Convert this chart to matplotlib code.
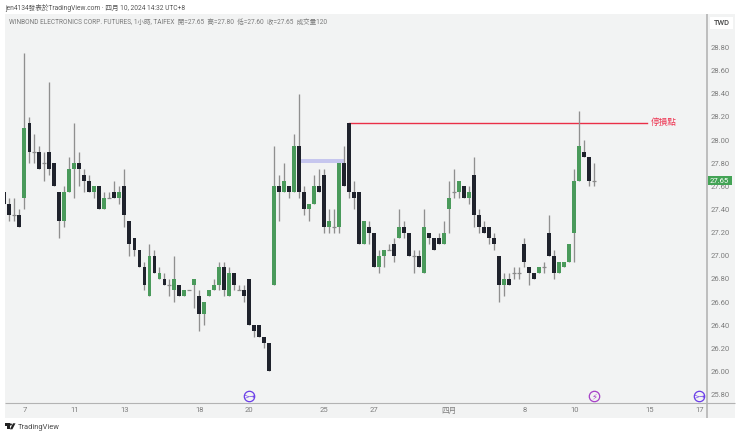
import matplotlib
matplotlib.use("Agg")
import matplotlib.pyplot as plt
from matplotlib.patches import Rectangle, Polygon, Circle

plt.rcParams['font.family'] = ['Roboto', 'Noto Sans CJK TC', 'DejaVu Sans']

opens = [27.55,27.45,27.35,27.35,27.50,28.15,27.90,27.90,27.80,27.90,
         27.80,27.55,27.30,27.55,27.75,27.80,27.70,27.65,27.55,27.60,
         27.40,27.50,27.55,27.50,27.60,27.30,27.15,27.05,26.90,26.65,
         27.00,26.80,26.80,26.75,26.70,26.75,26.65,26.70,26.75,26.65,
         26.50,26.65,26.70,26.75,26.90,26.65,26.85,26.70,26.70,26.80,
         26.40,26.40,26.30,26.25,26.75,27.60,27.55,27.60,27.55,27.95,
         27.55,27.40,27.45,27.60,27.70,27.25,27.25,27.25,27.80,28.15,
         27.55,27.55,27.10,27.25,27.20,26.90,27.00,27.05,27.10,27.15,
         27.25,27.20,27.00,27.00,26.85,27.20,27.15,27.15,27.10,27.40,
         27.55,27.55,27.60,27.50,27.70,27.35,27.25,27.25,27.15,27.00,
         26.75,26.80,26.85,26.85,27.10,26.90,26.85,26.85,26.90,27.20,
         27.00,26.85,26.90,26.95,27.20,27.65,27.90,27.85,27.65]
closes = [27.45,27.35,27.35,27.25,28.10,27.90,27.90,27.75,27.80,27.75,
          27.60,27.30,27.55,27.75,27.80,27.75,27.65,27.55,27.60,27.40,
          27.50,27.50,27.50,27.55,27.35,27.10,27.05,26.90,26.75,27.00,
          26.85,26.85,26.75,26.75,26.80,26.65,26.70,26.70,26.80,26.50,
          26.60,26.70,26.75,26.90,26.70,26.85,26.75,26.70,26.65,26.40,
          26.35,26.30,26.25,26.00,27.60,27.55,27.65,27.55,27.95,27.55,
          27.40,27.45,27.60,27.55,27.25,27.30,27.25,27.80,27.60,27.55,
          27.50,27.10,27.30,27.20,26.90,27.00,27.05,27.05,27.00,27.25,
          27.20,27.00,27.00,26.90,27.25,27.15,27.05,27.10,27.20,27.50,
          27.55,27.65,27.50,27.55,27.35,27.25,27.20,27.15,27.10,26.75,
          26.80,26.75,26.85,26.85,26.95,26.85,26.80,26.90,26.90,27.00,
          26.85,26.95,26.95,27.10,27.65,27.95,27.85,27.65,27.65]
highs = [27.55,27.50,27.50,27.40,28.75,28.20,28.05,27.95,27.90,28.50,
         27.80,27.55,27.60,27.85,28.15,27.90,27.75,27.70,27.60,27.60,
         27.55,27.55,27.65,27.60,27.75,27.30,27.15,27.05,26.95,27.10,
         27.05,26.90,26.85,26.80,27.00,26.75,26.70,26.70,26.80,26.70,
         26.60,26.70,26.80,26.95,26.95,26.90,26.85,26.75,26.75,26.80,
         26.40,26.40,26.30,26.25,27.95,27.70,27.80,27.60,28.05,28.40,
         27.60,27.45,27.70,27.75,27.75,27.40,27.40,27.80,27.95,28.15,
         27.65,27.55,27.30,27.30,27.20,27.05,27.05,27.10,27.15,27.40,
         27.30,27.20,27.05,27.05,27.40,27.20,27.15,27.20,27.30,27.65,
         27.75,27.65,27.60,27.60,27.85,27.40,27.30,27.25,27.20,27.00,
         26.85,26.85,26.90,26.90,27.15,26.90,26.85,26.90,26.95,27.35,
         27.05,26.95,26.95,27.10,27.75,28.25,28.00,27.85,27.80]
lows = [27.45,27.30,27.30,27.25,27.40,27.80,27.80,27.75,27.65,27.70,
        27.60,27.15,27.25,27.55,27.50,27.60,27.55,27.55,27.50,27.40,
        27.40,27.50,27.50,27.45,27.25,27.00,27.00,26.90,26.70,26.65,
        26.85,26.80,26.75,26.65,26.60,26.65,26.65,26.70,26.55,26.35,
        26.40,26.65,26.70,26.70,26.65,26.65,26.70,26.70,26.60,26.40,
        26.30,26.30,26.20,26.00,26.75,27.30,27.55,27.50,27.55,27.50,
        27.35,27.30,27.45,27.55,27.20,27.20,27.20,27.20,27.60,27.50,
        27.40,27.10,27.10,27.10,26.90,26.85,26.90,27.05,26.95,27.15,
        27.15,27.00,26.85,26.90,26.85,27.10,27.05,27.10,27.10,27.20,
        27.50,27.50,27.50,27.45,27.25,27.20,27.20,27.10,27.05,26.60,
        26.65,26.75,26.80,26.80,26.90,26.75,26.80,26.85,26.85,27.00,
        26.80,26.85,26.90,26.95,26.95,27.65,27.85,27.60,27.60]

x_tick_pos = [4, 14, 24, 39, 49, 64, 74, 89, 104, 114, 129, 139]
x_tick_labels = ['7', '11', '13', '18', '20', '25', '27', '四月', '8', '10', '15', '17']
y_ticks = [25.8, 26.0, 26.2, 26.4, 26.6, 26.8, 27.0, 27.2, 27.4, 27.6, 27.8, 28.0, 28.2, 28.4, 28.6, 28.8]
stop_price = 28.15
stop_start, stop_end = 69, 128.6
zone_low, zone_high = 27.80, 27.84
zone_start, zone_end = 59.4, 68.2
split_events = [49, 139]
earnings_events = [118]
event_price = 25.785

W, H = 740, 436
GREEN, DARK, WICK, DOJI = '#4a9a5b', '#1f222c', '#8f8f8f', '#8a8a8a'
TICK = '#7d7d7d'

fig = plt.figure(figsize=(W / 100, H / 100), dpi=100, facecolor='white')

bg = fig.add_axes([0, 0, 1, 1], zorder=-1)
bg.set_xlim(0, W); bg.set_ylim(H, 0); bg.axis('off')
bg.add_patch(Rectangle((5, 14), 730, 404, fc='#f2f3f3', ec='none'))

ax = fig.add_axes([5 / W, 1 - 403 / H, 701 / W, 389 / H], zorder=1)
ax.patch.set_alpha(0)
ax.set_xlim((5 - 4.3) / 5, (706 - 4.3) / 5)
ax.set_ylim(28.8 - (403 - 47.5) / 115.7, 28.8 + (47.5 - 14) / 115.7)
for s in ax.spines.values():
    s.set_visible(False)

ax.add_patch(Rectangle((zone_start, zone_low), zone_end - zone_start, zone_high - zone_low,
                       fc='#c6c6ee', ec='none', zorder=1))
ax.plot([stop_start, stop_end], [stop_price, stop_price], color='#ea2f47', lw=1.0, zorder=2)

for i, (o, h, l, c) in enumerate(zip(opens, highs, lows, closes)):
    ax.vlines(i, l, h, color=WICK, lw=0.95, zorder=3)
    if o == c:
        ax.hlines(o, i - 0.38, i + 0.38, color=DOJI, lw=0.9, zorder=4)
    else:
        col = GREEN if c > o else DARK
        ax.bar(i, abs(c - o), bottom=min(o, c), width=0.72, color=col, lw=0, zorder=4)

ax.scatter(split_events, [event_price] * len(split_events), s=56, fc='#f2f3f3', ec='#6a3de8', lw=0.9,
           zorder=5, clip_on=False)
for e in split_events:
    ax.text(e, event_price, '>→', color='#6a3de8', fontsize=5, ha='center', va='center',
            family=['DejaVu Sans'], zorder=6)
ax.scatter(earnings_events, [event_price], s=56, fc='#f2f3f3', ec='#a63fc7', lw=0.9, zorder=5, clip_on=False)
for e in earnings_events:
    ax.text(e, event_price, '⚡', color='#a63fc7', fontsize=6, ha='center', va='center',
            family=['DejaVu Sans'], zorder=6)

ax.yaxis.tick_right()
ax.set_yticks(y_ticks)
ax.set_yticklabels([f'{v:.2f}' for v in y_ticks])
ax.set_xticks(x_tick_pos)
ax.set_xticklabels(x_tick_labels)
ax.tick_params(axis='y', length=0, pad=3.5, labelsize=5.5, labelcolor=TICK)
ax.tick_params(axis='x', length=0, pad=3, labelsize=5.5, labelcolor=TICK)

ov = fig.add_axes([0, 0, 1, 1], zorder=3)
ov.set_xlim(0, W); ov.set_ylim(H, 0); ov.axis('off'); ov.patch.set_alpha(0)
ov.plot([706.7, 706.7], [14, 418], color='#bdbdbd', lw=1.4, solid_capstyle='butt')
ov.plot([5, 735], [403, 403], color='#b3b3b3', lw=0.8, solid_capstyle='butt')

ov.add_patch(Rectangle((710, 17.5), 23, 11.5, fc='white', ec='none'))
ov.text(721.5, 23, 'TWD', color='#444444', fontsize=5.4, ha='center', va='center', weight='medium')
ov.add_patch(Rectangle((707.5, 176), 24, 8.8, fc='#43a355', ec='none'))
ov.text(719.5, 180.6, '27.65', color='white', fontsize=5.5, ha='center', va='center')

ov.text(651, 122.5, '停損點', color='#ee3350', fontsize=6.2, ha='left', va='center')
ov.text(5, 8.3, 'jen4134發表於TradingView.com · 四月 10, 2024 14:32 UTC+8', color='#555555',
        fontsize=4.8, ha='left', va='center')
ov.text(9, 22.3, 'WINBOND ELECTRONICS CORP. FUTURES, 1小時, TAIFEX  開=27.65  高=27.80  低=27.60  收=27.65  成交量120',
        color='#7a7a7a', fontsize=4.7, ha='left', va='center')

ov.add_patch(Rectangle((5, 423.3), 4.6, 2.2, fc='#222222', ec='none'))
ov.add_patch(Rectangle((7.2, 423.3), 2.4, 6, fc='#222222', ec='none'))
ov.add_patch(Circle((10.8, 424.5), 1.1, fc='#222222', ec='none'))
ov.add_patch(Polygon([(13, 423.3), (15.5, 423.3), (12.4, 429.3), (9.9, 429.3)], fc='#222222', ec='none'))
ov.text(17.5, 427, 'TradingView', color='#4a4a4a', fontsize=5.4, ha='left', va='center')

fig.savefig('out.png', dpi=100)
